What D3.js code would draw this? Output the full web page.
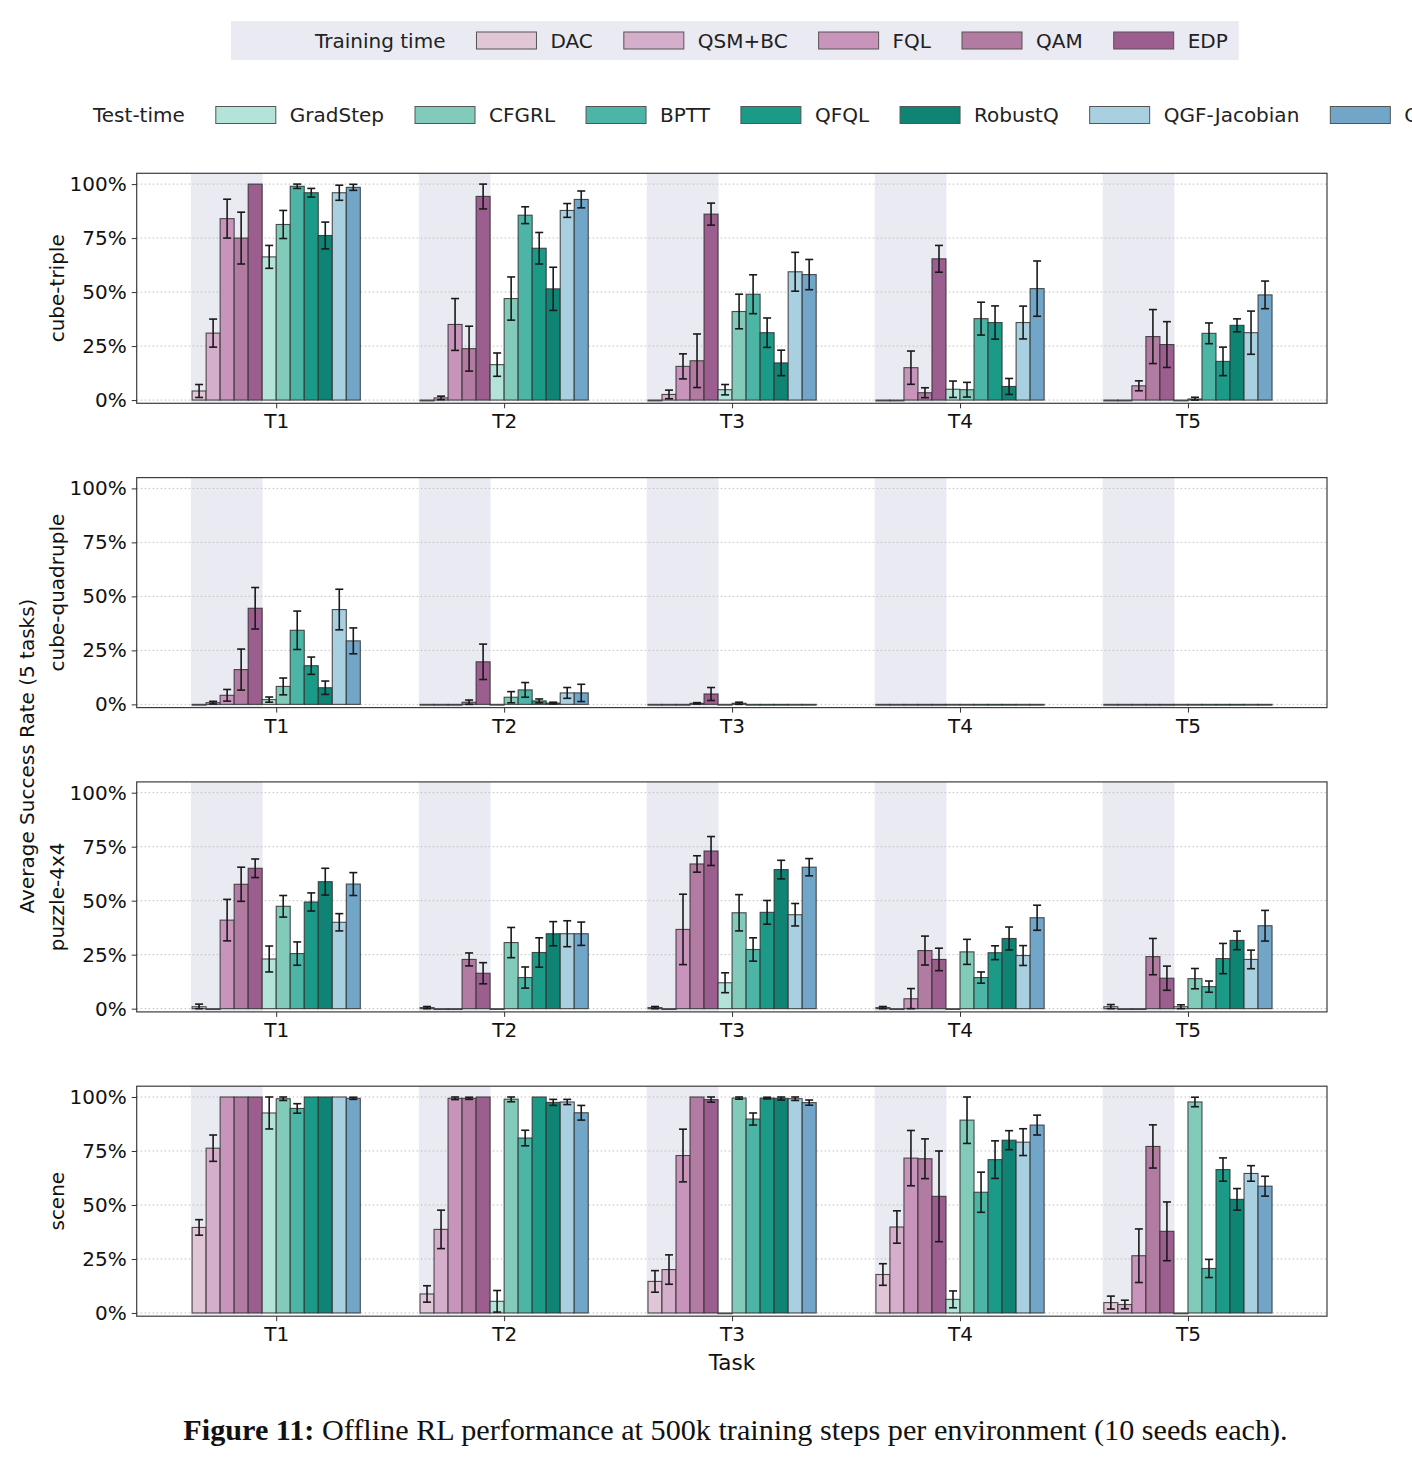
<!DOCTYPE html>
<html lang="en">
<head>
<meta charset="utf-8">
<title>Offline RL success rates</title>
<script src="https://cdn.jsdelivr.net/npm/d3@7"></script>
<style>
  body { margin: 0; background: #fff; }
  svg { display: block; font-family: "DejaVu Sans", sans-serif; }
</style>
</head>
<body>
<script>

// categories
var tasks = ["T1", "T2", "T3", "T4", "T5"];
var trainMethods = ["DAC", "QSM+BC", "FQL", "QAM", "EDP"];
var testMethods = ["GradStep", "CFGRL", "BPTT", "QFQL", "RobustQ", "QGF-Jacobian", "Ours"];
var trainColors = ["#e1c6d7", "#d5aecb", "#c894bc", "#b27ba2", "#9c5e8e"];
var testColors = ["#b3e3d9", "#82cbbb", "#4db5a6", "#1c9a88", "#108474", "#a9d0e1", "#72a6c8"];
var envNames = ["cube-triple", "cube-quadruple", "puzzle-4x4", "scene"];
var yTicks = [0, 25, 50, 75, 100];

// mean success (%) per task, one row per task, methods in legend order
var cubeTripleMean = [
    [4.2, 31, 84, 75, 100, 66.3, 81.3, 99, 96, 76.2, 96, 98.5],
    [0, 1, 35, 23.8, 94.3, 16.4, 47, 85.6, 70.3, 51.5, 87.8, 92.9],
    [0, 2.6, 15.6, 18.2, 86.1, 4.8, 41, 49, 31.2, 17.2, 59.4, 58.1],
    [0, 0, 15, 3.4, 65.4, 5, 4.8, 37.7, 35.9, 6.3, 35.9, 51.6],
    [0, 0, 6.6, 29.4, 25.7, 0, 0.5, 30.9, 17.9, 34.6, 31.2, 48.7]
];
var cubeTripleErr = [
    [3, 6.5, 9, 12, 0, 5.3, 6.5, 1, 2, 6.2, 3.5, 1.4],
    [0, 0.8, 12, 10.4, 5.8, 5.4, 10, 3.9, 7.3, 10, 3.2, 3.9],
    [0, 2, 5.8, 12.4, 5.1, 2.4, 8, 9, 6.8, 5.9, 9, 7],
    [0, 0, 7.7, 2.3, 6.2, 3.8, 3.4, 7.6, 7.7, 3.7, 7.6, 12.8],
    [0, 0, 2.3, 12.5, 10.6, 0, 0.8, 4.8, 6.6, 3, 10, 6.4]
];

var cubeQuadMean = [
    [0, 0.8, 4.2, 16.1, 44.5, 2.2, 8.3, 34.3, 17.9, 7.7, 43.9, 29.4],
    [0, 0, 0, 1, 19.7, 0, 3.3, 6.7, 1.6, 0.6, 5.3, 5.3],
    [0, 0, 0, 0.5, 4.8, 0, 0.5, 0, 0, 0, 0, 0],
    [0, 0, 0, 0, 0, 0, 0, 0, 0, 0, 0, 0],
    [0, 0, 0, 0, 0, 0, 0, 0, 0, 0, 0, 0]
];
var cubeQuadErr = [
    [0, 0.6, 2.7, 9.5, 9.6, 1.2, 3.9, 8.9, 4, 3.1, 9.4, 6],
    [0, 0, 0, 1, 8.2, 0, 2.6, 3.4, 0.9, 0.4, 2.5, 4],
    [0, 0, 0, 0.3, 3, 0, 0.5, 0, 0, 0, 0, 0],
    [0, 0, 0, 0, 0, 0, 0, 0, 0, 0, 0, 0],
    [0, 0, 0, 0, 0, 0, 0, 0, 0, 0, 0, 0]
];

var puzzleMean = [
    [0.9, 0, 41, 57.6, 65, 23, 47.4, 25.5, 49.4, 58.8, 40, 57.7],
    [0.5, 0, 0, 22.8, 16.4, 0, 30.6, 14.4, 26, 34.7, 34.7, 34.7],
    [0.5, 0, 36.7, 67, 73, 12, 44.4, 27.4, 44.6, 64.4, 43.5, 65.5],
    [0.5, 0, 4.6, 26.9, 22.8, 0, 26.3, 14.4, 25.9, 32.5, 24.6, 42.1],
    [0.9, 0, 0, 24.1, 14.1, 0.9, 13.9, 10.2, 23.2, 31.6, 22.8, 38.4]
];
var puzzleErr = [
    [1.2, 0, 9.6, 7.9, 4.3, 6, 5, 5.4, 4.2, 6.2, 4, 5.3],
    [0.5, 0, 0, 3, 4.9, 0, 7, 4.9, 6.8, 5.6, 6, 5.4],
    [0.5, 0, 16.3, 3.8, 6.7, 4.6, 8.4, 5.4, 5.5, 4.3, 5.2, 4],
    [0.5, 0, 4.7, 6.7, 5.2, 0, 5.8, 2.6, 3.2, 5.3, 4.6, 5.8],
    [1, 0, 0, 8.4, 5.6, 0.9, 4.7, 2.6, 7, 4.3, 4.3, 7.1]
];

var sceneMean = [
    [39.6, 76.3, 100, 100, 100, 92.6, 99.2, 94.7, 100, 100, 100, 99.4],
    [8.8, 38.7, 99.4, 99.4, 100, 5.4, 99, 81, 100, 97.5, 97.7, 92.7],
    [14.6, 20.1, 72.9, 100, 98.8, 0, 99.5, 89.8, 99.5, 99.4, 99.2, 97.4],
    [17.8, 39.8, 71.7, 71.4, 54, 6.3, 89.3, 55.9, 71, 80, 79.1, 87],
    [4.8, 3.9, 26.5, 77.1, 37.8, 0, 97.7, 20.6, 66.4, 52.6, 64.6, 58.7]
];
var sceneErr = [
    [3.6, 6.1, 0, 0, 0, 7.4, 0.8, 2.2, 0, 0, 0, 0.5],
    [3.8, 8.9, 0.6, 0.5, 0, 5, 1.2, 3.6, 0, 1.4, 1.2, 3.4],
    [5, 6.8, 12.2, 0, 1.2, 0, 0.5, 2.8, 0.4, 0.8, 0.8, 1.2],
    [5, 7.5, 12.8, 9.2, 21, 3.9, 10.8, 9.3, 8.7, 4.4, 6.2, 4.6],
    [3, 2, 12.4, 10, 13.6, 0, 2.2, 4.2, 5.4, 5, 3.6, 4.6]
];

var envMeans = [cubeTripleMean, cubeQuadMean, puzzleMean, sceneMean];
var envErrs = [cubeTripleErr, cubeQuadErr, puzzleErr, sceneErr];

var methods = trainMethods.concat(testMethods);
var colors = trainColors.concat(testColors);

var W = 1412, H = 1462;
var left = 136.7, right = 1327;
var panelH = 230, firstTop = 173.3, panelStep = 304.3;
var barW = 0.0615; // in task units
var nBars = methods.length;

var svg = d3.select("body")
    .append("svg")
    .attr("width", W)
    .attr("height", H);

svg.append("rect")
    .attr("width", W).attr("height", H)
    .attr("fill", "#fff");

var x = d3.scaleLinear()
    .domain([-0.612, tasks.length - 1 + 0.61])
    .range([left, right]);

// legends (the title sits in place of a label with an empty handle)
function drawLegend(title, names, cols, x0, cy, gap, withBox) {
    var g = svg.append("g");
    var box = g.append("rect");
    var cur = x0 + 10;
    var items = [{name: title, color: null}].concat(names.map(function(n, i) { return {name: n, color: cols[i]}; }));
    items.forEach(function(it) {
        if (it.color) {
            g.append("rect")
                .attr("x", cur).attr("y", cy - 8.5)
                .attr("width", 60).attr("height", 17)
                .attr("fill", it.color)
                .attr("stroke", "#555")
                .attr("stroke-width", 1);
        }
        var t = g.append("text")
            .attr("x", cur + 74).attr("y", cy)
            .attr("dy", "0.36em")
            .attr("font-size", 20)
            .attr("fill", "#222")
            .text(it.name);
        cur = cur + 74 + t.node().getComputedTextLength() + gap;
    });
    if (withBox) {
        box.attr("x", x0).attr("y", cy - 19.5)
            .attr("width", cur - gap + 11 - x0).attr("height", 39)
            .attr("fill", "#eaeaf2");
    } else {
        box.remove();
    }
}

drawLegend("Training time", trainMethods, trainColors, 231, 40.5, 31, true);
drawLegend("Test-time", testMethods, testColors, 9, 115, 31, false);

// panels
envNames.forEach(function(env, e) {
    var top = firstTop + e * panelStep;
    var bottom = top + panelH;
    var means = envMeans[e], errs = envErrs[e];

    var y = d3.scaleLinear()
        .domain([-1.5, 105])
        .range([bottom, top]);

    var g = svg.append("g");

    // shaded training-time band per task
    g.selectAll("rect.band")
        .data(tasks)
        .enter()
        .append("rect")
        .attr("class", "band")
        .attr("x", function(d, i) { return x(i - nBars / 2 * barW) - 1.2; })
        .attr("y", top)
        .attr("width", function(d, i) { return x(i - nBars / 2 * barW + trainMethods.length * barW) - x(i - nBars / 2 * barW) + 1.6; })
        .attr("height", panelH)
        .attr("fill", "#eaeaf2");

    // dotted grid
    g.selectAll("line.grid")
        .data(yTicks)
        .enter()
        .append("line")
        .attr("class", "grid")
        .attr("x1", left).attr("x2", right)
        .attr("y1", function(d) { return y(d); })
        .attr("y2", function(d) { return y(d); })
        .attr("stroke", "#bdbdbd")
        .attr("stroke-width", 1)
        .attr("stroke-dasharray", "1.5,2.5");

    // flatten into bar records
    var bars = [];
    tasks.forEach(function(t, ti) {
        methods.forEach(function(m, mi) {
            bars.push({task: ti, m: mi, v: means[ti][mi], err: errs[ti][mi]});
        });
    });

    var bx = function(d) { return x(d.task - nBars / 2 * barW + d.m * barW); };
    var bwPx = x(barW) - x(0);

    g.selectAll("rect.bar")
        .data(bars)
        .enter()
        .append("rect")
        .attr("class", "bar")
        .attr("x", bx)
        .attr("y", function(d) { return y(d.v); })
        .attr("width", bwPx)
        .attr("height", function(d) { return Math.max(y(0) - y(d.v), 0.8); })
        .attr("fill", function(d) { return colors[d.m]; })
        .attr("stroke", "#2f2f2f")
        .attr("stroke-opacity", 0.85)
        .attr("stroke-width", 1.1);

    var withErr = bars.filter(function(d) { return d.err > 0; });
    var eb = g.selectAll("g.err")
        .data(withErr)
        .enter()
        .append("g")
        .attr("class", "err")
        .attr("stroke", "#1a1a1a")
        .attr("stroke-width", 1.6);
    eb.append("line")
        .attr("x1", function(d) { return bx(d) + bwPx / 2; })
        .attr("x2", function(d) { return bx(d) + bwPx / 2; })
        .attr("y1", function(d) { return y(Math.max(d.v - d.err, 0)); })
        .attr("y2", function(d) { return y(Math.min(d.v + d.err, 100)); });
    eb.append("line")
        .attr("x1", function(d) { return bx(d) + bwPx / 2 - 4; })
        .attr("x2", function(d) { return bx(d) + bwPx / 2 + 4; })
        .attr("y1", function(d) { return y(Math.min(d.v + d.err, 100)); })
        .attr("y2", function(d) { return y(Math.min(d.v + d.err, 100)); });
    eb.append("line")
        .attr("x1", function(d) { return bx(d) + bwPx / 2 - 4; })
        .attr("x2", function(d) { return bx(d) + bwPx / 2 + 4; })
        .attr("y1", function(d) { return y(Math.max(d.v - d.err, 0)); })
        .attr("y2", function(d) { return y(Math.max(d.v - d.err, 0)); });

    // frame
    g.append("rect")
        .attr("x", left).attr("y", top)
        .attr("width", right - left).attr("height", panelH)
        .attr("fill", "none")
        .attr("stroke", "#3d3d3d")
        .attr("stroke-width", 1.2);

    // axes
    var yAxis = d3.axisLeft(y)
        .tickValues(yTicks)
        .tickFormat(function(d) { return d + "%"; })
        .tickSize(5)
        .tickPadding(5);
    var ya = g.append("g")
        .attr("transform", "translate(" + left + ",0)")
        .call(yAxis);
    ya.select(".domain").remove();
    ya.selectAll("text").attr("font-size", 20).attr("font-family", "DejaVu Sans").attr("fill", "#111");
    ya.selectAll("line").attr("stroke", "#333");

    var xAxis = d3.axisBottom(x)
        .tickValues(d3.range(tasks.length))
        .tickFormat(function(d) { return tasks[d]; })
        .tickSize(5)
        .tickPadding(6);
    var xa = g.append("g")
        .attr("transform", "translate(0," + bottom + ")")
        .call(xAxis);
    xa.select(".domain").remove();
    xa.selectAll("text").attr("font-size", 20).attr("font-family", "DejaVu Sans").attr("fill", "#111");
    xa.selectAll("line").attr("stroke", "#333");

    // row label
    svg.append("text")
        .attr("transform", "translate(57," + (top + panelH / 2) + ") rotate(-90)")
        .attr("text-anchor", "middle")
        .attr("dy", "0.36em")
        .attr("font-size", 20)
        .attr("fill", "#111")
        .text(env);
});

svg.append("text")
    .attr("transform", "translate(27,756) rotate(-90)")
    .attr("text-anchor", "middle")
    .attr("dy", "0.36em")
    .attr("font-size", 20)
    .attr("fill", "#111")
    .text("Average Success Rate (5 tasks)");

svg.append("text")
    .attr("x", 732).attr("y", 1362)
    .attr("text-anchor", "middle")
    .attr("dy", "0.36em")
    .attr("font-size", 21.5)
    .attr("fill", "#111")
    .text("Task");

// caption
var cap = svg.append("text")
    .attr("x", 735.5).attr("y", 1430)
    .attr("text-anchor", "middle")
    .attr("dy", "0.33em")
    .attr("font-family", "'Liberation Serif', 'DejaVu Serif', serif")
    .attr("font-size", 27)
    .attr("fill", "#111");
cap.append("tspan").attr("font-weight", "bold").text("Figure 11:");
cap.append("tspan").text(" Offline RL performance at 500k training steps per environment (10 seeds each).");
var capLen = cap.node().getComputedTextLength();
cap.attr("font-size", 27 * 1105 / capLen);

</script>
</body>
</html>
